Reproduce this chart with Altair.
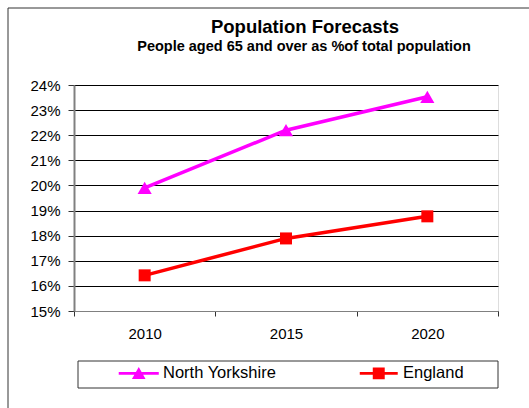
import altair as alt
import pandas as pd

years = ["2010", "2015", "2020"]
series = ["North Yorkshire", "England"]
north_yorkshire = [0.199, 0.222, 0.2353]
england = [0.1642, 0.1789, 0.1877]
y_ticks = [0.15, 0.16, 0.17, 0.18, 0.19, 0.20, 0.21, 0.22, 0.23, 0.24]
title_text = "Population Forecasts"
subtitle_text = "People aged 65 and over as %of total population"

colors = ["#FF00FF", "#FF0000"]
markers = ["triangle-up", "square"]
legend_paths = [
    "M-3.08,-0.23H3.08V0.23H-3.08Z M0,-1.0L1.05,0.85H-1.05Z",
    "M-2.92,-0.23H2.92V0.23H-2.92Z M-0.92,-0.92H0.92V0.92H-0.92Z",
]

rows = []
for name, vals in zip(series, [north_yorkshire, england]):
    for yr, v in zip(years, vals):
        rows.append({"year": yr, "value": v, "series": name})
df = pd.DataFrame(rows)

FONT = "Liberation Sans"

x_enc = alt.X("year:O", scale=alt.Scale(type="band", paddingInner=0, paddingOuter=0),
              axis=alt.Axis(title=None, labelAngle=0, tickBand="extent", grid=False,
                            domainColor="#808080", domainWidth=1, tickColor="#333333",
                            tickSize=5, labelFontSize=15, labelPadding=10,
                            labelColor="#000000", labelFont=FONT))
y_enc = alt.Y("value:Q", scale=alt.Scale(domain=[0.15, 0.24], nice=False, zero=False),
              axis=alt.Axis(title=None, values=y_ticks, format=".0%", grid=True,
                            gridColor="#000000", gridWidth=1, domainColor="#808080",
                            domainWidth=2, tickColor="#333333", tickSize=6,
                            labelPadding=8, labelFontSize=15, labelColor="#000000",
                            labelFont=FONT))

base = alt.Chart(df)

layers = []
for name, col, mk in zip(series, colors, markers):
    sub = base.transform_filter(alt.datum.series == name)
    layers.append(sub.mark_line(color=col, strokeWidth=3.5).encode(x=x_enc, y=y_enc))
    layers.append(sub.mark_point(color=col, shape=mk, filled=True, opacity=1,
                                 size=200 if mk == "triangle-up" else 144).encode(x=x_enc, y=y_enc))

leg = dict(title=None, orient="none", legendX=56.5, legendY=280, direction="horizontal",
           symbolSize=169, labelFontSize=16.5, labelFont=FONT, labelColor="#000000",
           labelOffset=16, columnPadding=83, symbolOpacity=1, symbolStrokeWidth=0,
           padding=0)
legend_layer = base.mark_point(filled=True, opacity=0).encode(
    x=x_enc, y=y_enc,
    color=alt.Color("series:N", scale=alt.Scale(domain=series, range=colors),
                    legend=alt.Legend(**leg)),
    shape=alt.Shape("series:N", scale=alt.Scale(domain=series, range=legend_paths),
                    legend=alt.Legend(**leg)),
)
layers.append(legend_layer)

one = alt.Data(values=[{}])
legend_box = alt.Chart(one).mark_rect(
    fill=None, stroke="#333333", strokeWidth=1
).encode(x=alt.value(4), x2=alt.value(424), y=alt.value(276), y2=alt.value(303))

outer_box = alt.Chart(one).mark_rect(
    fill=None, stroke="#333333", strokeWidth=1
).encode(x=alt.value(-66), x2=alt.value(700), y=alt.value(-77), y2=alt.value(500))

title_mark = alt.Chart(one).mark_text(
    font=FONT, fontSize=18.5, fontWeight="bold", color="#000000", align="center",
    baseline="alphabetic", text=title_text
).encode(x=alt.value(231), y=alt.value(-52))

subtitle_mark = alt.Chart(one).mark_text(
    font=FONT, fontSize=14.5, fontWeight="bold", color="#000000", align="center",
    baseline="alphabetic", text=subtitle_text
).encode(x=alt.value(230), y=alt.value(-34))

chart = alt.layer(outer_box, legend_box, title_mark, subtitle_mark, *layers).properties(
    width=424, height=226,
    autosize=alt.AutoSizeParams(type="none"),
    padding={"left": 74, "top": 85, "right": 31, "bottom": 97},
).configure_view(
    stroke="#808080", strokeWidth=1
).configure(font=FONT, background="#ffffff")

chart.save("out.html", embed_options={"renderer": "svg", "actions": False})
